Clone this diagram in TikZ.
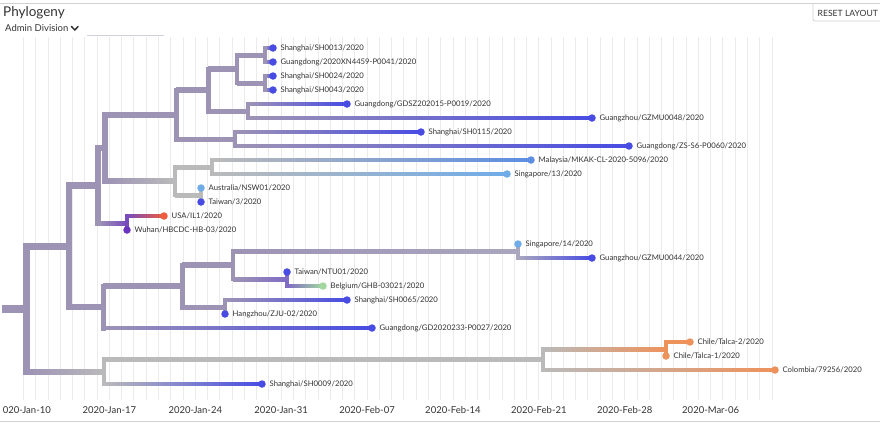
\documentclass[tikz,border=0pt]{standalone}
\usepackage{fontspec}
\setmainfont{Lato}
\usetikzlibrary{calc}
\definecolor{lav}{RGB}{157,147,181}
\definecolor{grayb}{RGB}{186,186,186}
\definecolor{blueL}{RGB}{72,76,226}
\definecolor{ltblue}{RGB}{112,172,232}
\definecolor{malay}{RGB}{92,142,226}
\definecolor{redL}{RGB}{238,92,62}
\definecolor{purL}{RGB}{106,52,190}
\definecolor{pmid}{RGB}{128,108,196}
\definecolor{greenL}{RGB}{162,216,160}
\definecolor{orangeL}{RGB}{238,146,92}
\definecolor{lavg}{RGB}{170,166,190}
\definecolor{txt}{RGB}{51,51,51}
\definecolor{gridc}{RGB}{235,235,235}
\definecolor{frame}{RGB}{210,210,210}
% horizontal branch: parent, child, width, colour at parent, colour at child
\newcommand{\hbr}[5]{\shade[left color=#4,right color=#5] ($(#1|-#2)+(0,-#3/2)$) rectangle ($(#2)+(0,#3/2)$);}
% vertical of a node: node, top child, bottom child, width, colour
\newcommand{\vbr}[5]{\draw[line width=#4pt,draw=#5,line cap=rect] (#1|-#2) -- (#1|-#3);}
\begin{document}
\begin{tikzpicture}[x=1pt,y=-1pt,
  dot/.style={circle,inner sep=0pt,minimum size=7.5pt,draw=none},
  lbl/.style={font=\fontsize{7.7}{9}\selectfont,text=txt,inner sep=1pt,label distance=2.5pt},
  axl/.style={font=\fontsize{9.5}{10}\selectfont,text=txt,inner sep=0pt},
  gridl/.style={draw=gridc,line width=0.9pt}]
\clip (0,0) rectangle (880,424);
\fill[white] (0,0) rectangle (880,424);
% grid
\foreach \d in {0,...,61} \draw[gridl] ({23.5+12.27*\d},37) -- ({23.5+12.27*\d},400);
% header
\draw[frame,line width=0.8pt] (0,3) -- (880,3);
\draw[frame,line width=0.8pt,rounded corners=2pt] (813,3) -- (813,21) -- (890,21);
\node[anchor=west,font=\fontsize{8.6}{10}\selectfont,text=txt,inner sep=0pt] (reset) at (817.5,13) {RESET LAYOUT};
\node[anchor=west,font=\fontsize{13.5}{15}\selectfont,text=txt,inner sep=0pt] (title) at (3,13) {Phylogeny};
\node[anchor=west,font=\fontsize{9.5}{11}\selectfont,text=txt,inner sep=0pt] (admin) at (5,28.5) {Admin Division};
\coordinate (chevA) at (71.5,26.5); \coordinate (chevB) at (74.8,30); \coordinate (chevC) at (78.1,26.5);
\draw[txt,line width=1.5pt,line cap=round,line join=round] (chevA) -- (chevB) -- (chevC);
\coordinate (ulA) at (87,35); \coordinate (ulB) at (164,35);
\draw[draw=lav!45,line width=1pt] (ulA) -- (ulB);
% axis
\node[axl,anchor=east] (ax0) at (51,410.5) {020-Jan-10};
\foreach \d/\t in {7/2020-Jan-17,14/2020-Jan-24,21/2020-Jan-31,28/2020-Feb-07,35/2020-Feb-14,42/2020-Feb-21,49/2020-Feb-28,56/2020-Mar-06}
  \node[axl] (ax\d) at ({23.5+12.27*\d},410.5) {\t};
\draw[frame,line width=0.8pt] (0,421.5) -- (880,421.5);
% internal nodes
\coordinate (S) at (2,309);
\coordinate (R) at (26,309);
\coordinate (P1) at (265,55);
\coordinate (P2) at (265,83);
\coordinate (P3) at (237,69);
\coordinate (P4) at (248,111);
\coordinate (P5) at (208,90);
\coordinate (P6) at (235,139);
\coordinate (P7) at (176,114.5);
\coordinate (P8) at (212,167);
\coordinate (P9) at (201,195);
\coordinate (P10) at (175,181);
\coordinate (P11) at (105,147.75);
\coordinate (P12) at (127,223);
\coordinate (P13) at (98,185.4);
\coordinate (P14) at (518,251);
\coordinate (P15) at (287,279);
\coordinate (P16) at (233,265);
\coordinate (P17) at (225,307);
\coordinate (P18) at (182,286);
\coordinate (P19) at (103,307);
\coordinate (P20) at (69,246.2);
\coordinate (P21) at (666,349);
\coordinate (P22) at (543,359.5);
\coordinate (P23) at (104,371.75);
% tip positions
\coordinate (T1) at (273,48);
\coordinate (T2) at (273,62);
\coordinate (T3) at (273,76);
\coordinate (T4) at (273,90);
\coordinate (T5) at (347,104);
\coordinate (T6) at (592,118);
\coordinate (T7) at (421,132);
\coordinate (T8) at (629,146);
\coordinate (T9) at (531,160);
\coordinate (T10) at (507,174);
\coordinate (T11) at (201,188);
\coordinate (T12) at (201,202);
\coordinate (T13) at (164,216);
\coordinate (T14) at (127,230);
\coordinate (T15) at (518,244);
\coordinate (T16) at (592,258);
\coordinate (T17) at (287,272);
\coordinate (T18) at (323,286);
\coordinate (T19) at (347,300);
\coordinate (T20) at (225,314);
\coordinate (T21) at (372,328);
\coordinate (T22) at (690,342);
\coordinate (T23) at (666,356);
\coordinate (T24) at (775,370);
\coordinate (T25) at (262,384);
% horizontal branches
\hbr{S}{R}{7}{lav}{lav}
\hbr{R}{P20}{6}{lav}{lav}
\hbr{R}{P23}{4.5}{lav}{grayb}
\hbr{P20}{P13}{5.5}{lav}{lav}
\hbr{P20}{P19}{5}{lav}{lav}
\hbr{P13}{P11}{5.5}{lav}{lav}
\hbr{P13}{P12}{4}{lav}{purL!75!lav}
\hbr{P11}{P7}{5}{lav}{lav}
\hbr{P11}{P10}{4.5}{lav}{grayb}
\hbr{P7}{P5}{5}{lav}{lav}
\hbr{P7}{P6}{4}{lav}{lav}
\hbr{P5}{P3}{4.5}{lav}{lav}
\hbr{P5}{P4}{4}{lav}{lav}
\hbr{P3}{P1}{4}{lav}{lav}
\hbr{P3}{P2}{4}{lav}{lav}
\hbr{P1}{T1}{3.8}{lav}{blueL}
\hbr{P1}{T2}{3.8}{lav}{blueL}
\hbr{P2}{T3}{3.8}{lav}{blueL}
\hbr{P2}{T4}{3.8}{lav}{blueL}
\hbr{P4}{T5}{3.8}{lav}{blueL}
\hbr{P4}{T6}{3.8}{lav}{blueL}
\hbr{P6}{T7}{3.8}{lav}{blueL}
\hbr{P6}{T8}{3.8}{lav}{blueL}
\hbr{P10}{P8}{4}{grayb}{grayb}
\hbr{P10}{P9}{4}{grayb}{grayb}
\hbr{P8}{T9}{3.8}{grayb}{malay}
\hbr{P8}{T10}{3.8}{grayb}{ltblue}
\hbr{P12}{T13}{3.8}{purL!75!lav}{redL}
\hbr{P19}{P18}{5}{lav}{lav}
\hbr{P19}{T21}{3.8}{lav}{blueL}
\hbr{P18}{P16}{4.5}{lav}{lav}
\hbr{P18}{P17}{4}{lav}{lav}
\hbr{P16}{P14}{4}{lav}{lavg}
\hbr{P16}{P15}{4}{lav}{pmid}
\hbr{P14}{T16}{3.8}{lavg}{blueL}
\hbr{P15}{T18}{3.8}{pmid}{greenL}
\hbr{P17}{T19}{3.8}{lav}{blueL}
\hbr{P23}{P22}{4.5}{grayb}{grayb}
\hbr{P23}{T25}{3.8}{grayb}{blueL}
\hbr{P22}{P21}{4}{grayb}{orangeL}
\hbr{P22}{T24}{3.8}{grayb}{orangeL}
\hbr{P21}{T22}{3.8}{orangeL}{orangeL}
% verticals
\vbr{R}{P20}{P23}{7}{lav}
\vbr{P20}{P13}{P19}{6}{lav}
\vbr{P13}{P11}{P12}{5.5}{lav}
\vbr{P11}{P7}{P10}{5.5}{lav}
\vbr{P7}{P5}{P6}{5}{lav}
\vbr{P5}{P3}{P4}{5}{lav}
\vbr{P3}{P1}{P2}{4.5}{lav}
\vbr{P1}{T1}{T2}{4}{lav}
\vbr{P2}{T3}{T4}{4}{lav}
\vbr{P4}{T5}{T6}{4}{lav}
\vbr{P6}{T7}{T8}{4}{lav}
\vbr{P10}{P8}{P9}{4.5}{grayb}
\vbr{P8}{T9}{T10}{4}{grayb}
\vbr{P9}{T11}{T12}{4}{grayb}
\vbr{P12}{T13}{T14}{4}{purL!75!lav}
\vbr{P19}{P18}{T21}{5}{lav}
\vbr{P18}{P16}{P17}{5}{lav}
\vbr{P16}{P14}{P15}{4.5}{lav}
\vbr{P14}{T15}{T16}{4}{lavg}
\vbr{P15}{T17}{T18}{4}{pmid}
\vbr{P17}{T19}{T20}{4}{lav}
\vbr{P23}{P22}{T25}{4.5}{grayb}
\vbr{P22}{P21}{T24}{4.5}{grayb}
\vbr{P21}{T22}{T23}{4}{orangeL}
% tips
\node[dot,fill=blueL,label={[lbl]right:Shanghai/SH0013/2020}] (L1) at (T1) {};
\node[dot,fill=blueL,label={[lbl]right:Guangdong/2020XN4459-P0041/2020}] (L2) at (T2) {};
\node[dot,fill=blueL,label={[lbl]right:Shanghai/SH0024/2020}] (L3) at (T3) {};
\node[dot,fill=blueL,label={[lbl]right:Shanghai/SH0043/2020}] (L4) at (T4) {};
\node[dot,fill=blueL,label={[lbl]right:Guangdong/GDSZ202015-P0019/2020}] (L5) at (T5) {};
\node[dot,fill=blueL,label={[lbl]right:Guangzhou/GZMU0048/2020}] (L6) at (T6) {};
\node[dot,fill=blueL,label={[lbl]right:Shanghai/SH0115/2020}] (L7) at (T7) {};
\node[dot,fill=blueL,label={[lbl]right:Guangdong/ZS-S6-P0060/2020}] (L8) at (T8) {};
\node[dot,fill=malay,label={[lbl]right:Malaysia/MKAK-CL-2020-5096/2020}] (L9) at (T9) {};
\node[dot,fill=ltblue,label={[lbl]right:Singapore/13/2020}] (L10) at (T10) {};
\node[dot,fill=ltblue,label={[lbl]right:Australia/NSW01/2020}] (L11) at (T11) {};
\node[dot,fill=blueL,label={[lbl]right:Taiwan/3/2020}] (L12) at (T12) {};
\node[dot,fill=redL,label={[lbl]right:USA/IL1/2020}] (L13) at (T13) {};
\node[dot,fill=purL,label={[lbl]right:Wuhan/HBCDC-HB-03/2020}] (L14) at (T14) {};
\node[dot,fill=ltblue,label={[lbl]right:Singapore/14/2020}] (L15) at (T15) {};
\node[dot,fill=blueL,label={[lbl]right:Guangzhou/GZMU0044/2020}] (L16) at (T16) {};
\node[dot,fill=blueL,label={[lbl]right:Taiwan/NTU01/2020}] (L17) at (T17) {};
\node[dot,fill=greenL,label={[lbl]right:Belgium/GHB-03021/2020}] (L18) at (T18) {};
\node[dot,fill=blueL,label={[lbl]right:Shanghai/SH0065/2020}] (L19) at (T19) {};
\node[dot,fill=blueL,label={[lbl]right:Hangzhou/ZJU-02/2020}] (L20) at (T20) {};
\node[dot,fill=blueL,label={[lbl]right:Guangdong/GD2020233-P0027/2020}] (L21) at (T21) {};
\node[dot,fill=orangeL,label={[lbl]right:Chile/Talca-2/2020}] (L22) at (T22) {};
\node[dot,fill=orangeL,label={[lbl]right:Chile/Talca-1/2020}] (L23) at (T23) {};
\node[dot,fill=orangeL,label={[lbl]right:Colombia/79256/2020}] (L24) at (T24) {};
\node[dot,fill=blueL,label={[lbl]right:Shanghai/SH0009/2020}] (L25) at (T25) {};
\end{tikzpicture}
\end{document}
